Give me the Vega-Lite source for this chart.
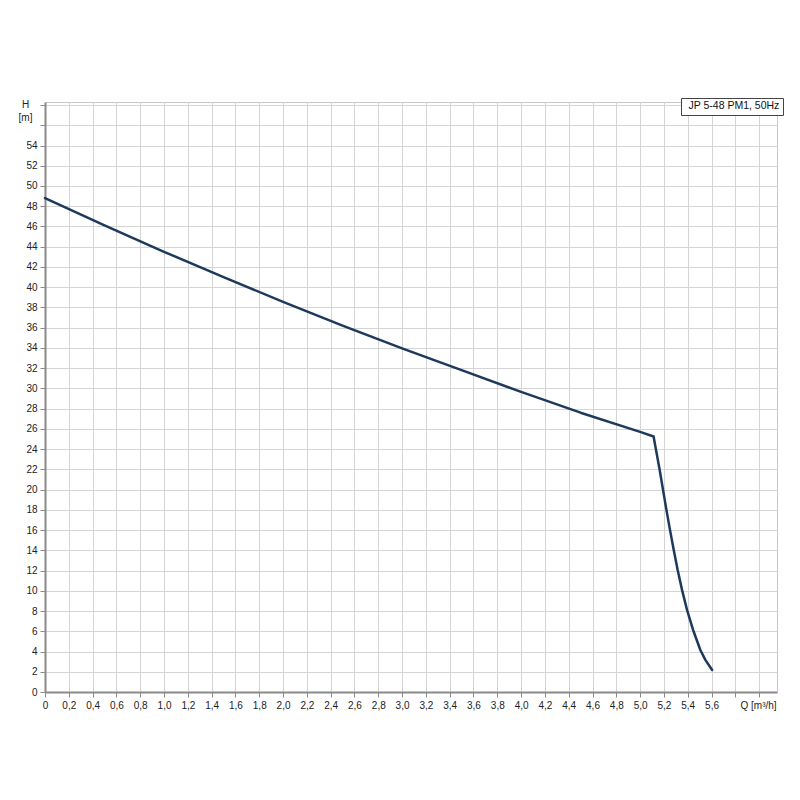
{
  "$schema": "https://vega.github.io/schema/vega-lite/v6.json",
  "autosize": {"type": "none"},
  "padding": {"left": 45, "top": 102, "right": 22, "bottom": 108},
  "width": 732,
  "height": 590,
  "background": "white",
  "config": {
    "font": "Liberation Sans",
    "view": {"stroke": "#c8c8c8", "strokeWidth": 1},
    "axis": {
      "labelFont": "Liberation Sans",
      "labelFontSize": 10,
      "labelColor": "#222",
      "gridColor": "#d4d4d4",
      "gridWidth": 1,
      "domainColor": "#8a8a8a",
      "domainWidth": 2,
      "tickColor": "#8a8a8a",
      "tickSize": 5,
      "tickWidth": 1,
      "titleFont": "Liberation Sans",
      "titleFontSize": 10,
      "titleFontWeight": "normal",
      "titleColor": "#222"
    }
  },
  "data": {
    "values": [
      {"Q": 0.0, "H": 48.8, "s": "JP 5-48 PM1, 50Hz"},
      {"Q": 0.5, "H": 46.1, "s": "JP 5-48 PM1, 50Hz"},
      {"Q": 1.0, "H": 43.5, "s": "JP 5-48 PM1, 50Hz"},
      {"Q": 1.5, "H": 41.0, "s": "JP 5-48 PM1, 50Hz"},
      {"Q": 2.0, "H": 38.55, "s": "JP 5-48 PM1, 50Hz"},
      {"Q": 2.5, "H": 36.2, "s": "JP 5-48 PM1, 50Hz"},
      {"Q": 3.0, "H": 33.95, "s": "JP 5-48 PM1, 50Hz"},
      {"Q": 3.5, "H": 31.8, "s": "JP 5-48 PM1, 50Hz"},
      {"Q": 4.0, "H": 29.65, "s": "JP 5-48 PM1, 50Hz"},
      {"Q": 4.5, "H": 27.6, "s": "JP 5-48 PM1, 50Hz"},
      {"Q": 5.0, "H": 25.7, "s": "JP 5-48 PM1, 50Hz"},
      {"Q": 5.113, "H": 25.25, "s": "JP 5-48 PM1, 50Hz"},
      {"Q": 5.164, "H": 21.96, "s": "JP 5-48 PM1, 50Hz"},
      {"Q": 5.221, "H": 18.0, "s": "JP 5-48 PM1, 50Hz"},
      {"Q": 5.251, "H": 16.02, "s": "JP 5-48 PM1, 50Hz"},
      {"Q": 5.282, "H": 14.05, "s": "JP 5-48 PM1, 50Hz"},
      {"Q": 5.315, "H": 12.07, "s": "JP 5-48 PM1, 50Hz"},
      {"Q": 5.352, "H": 10.09, "s": "JP 5-48 PM1, 50Hz"},
      {"Q": 5.394, "H": 8.11, "s": "JP 5-48 PM1, 50Hz"},
      {"Q": 5.445, "H": 6.13, "s": "JP 5-48 PM1, 50Hz"},
      {"Q": 5.506, "H": 4.15, "s": "JP 5-48 PM1, 50Hz"},
      {"Q": 5.548, "H": 3.17, "s": "JP 5-48 PM1, 50Hz"},
      {"Q": 5.605, "H": 2.18, "s": "JP 5-48 PM1, 50Hz"}
    ]
  },
  "mark": {"type": "line", "strokeWidth": 2.5, "strokeCap": "round", "strokeJoin": "round"},
  "encoding": {
    "x": {
      "field": "Q",
      "type": "quantitative",
      "scale": {"domain": [0, 6.15], "nice": false, "zero": true},
      "axis": {
        "values": [0,0.2,0.4,0.6,0.8,1.0,1.2,1.4,1.6,1.8,2.0,2.2,2.4,2.6,2.8,3.0,3.2,3.4,3.6,3.8,4.0,4.2,4.4,4.6,4.8,5.0,5.2,5.4,5.6,5.8,6.0],
        "labelExpr": "datum.value > 5.65 ? '' : (datum.value == 0 ? '0' : replace(format(datum.value, '.1f'), '.', ','))",
        "labelPadding": 3,
        "labelFlush": false,
        "title": "Q [m³/h]",
        "titleAnchor": "start",
        "titleAlign": "left",
        "titleBaseline": "top",
        "titleX": 695,
        "titleY": 8
      }
    },
    "y": {
      "field": "H",
      "type": "quantitative",
      "scale": {"domain": [0, 58.3], "nice": false, "zero": true},
      "axis": {
        "values": [0,2,4,6,8,10,12,14,16,18,20,22,24,26,28,30,32,34,36,38,40,42,44,46,48,50,52,54,56,58],
        "labelExpr": "datum.value > 55 ? '' : format(datum.value, 'd')",
        "labelPadding": 3,
        "labelFlush": false,
        "title": ["H", "[m]"],
        "titleAngle": 0,
        "titleAlign": "center",
        "titleBaseline": "top",
        "titleLineHeight": 13,
        "titleX": -20,
        "titleY": -3
      }
    },
    "color": {
      "field": "s",
      "type": "nominal",
      "scale": {"range": ["#1d3a5c"]},
      "legend": {
        "title": null,
        "orient": "none",
        "legendX": 636,
        "legendY": -4,
        "strokeColor": "#444",
        "fillColor": "white",
        "padding": 3,
        "symbolSize": 0,
        "symbolOpacity": 0,
        "symbolStrokeWidth": 0,
        "labelOffset": -6,
        "labelLimit": 200,
        "labelFont": "Liberation Sans",
        "labelFontSize": 10.5,
        "labelColor": "#111"
      }
    }
  }
}
